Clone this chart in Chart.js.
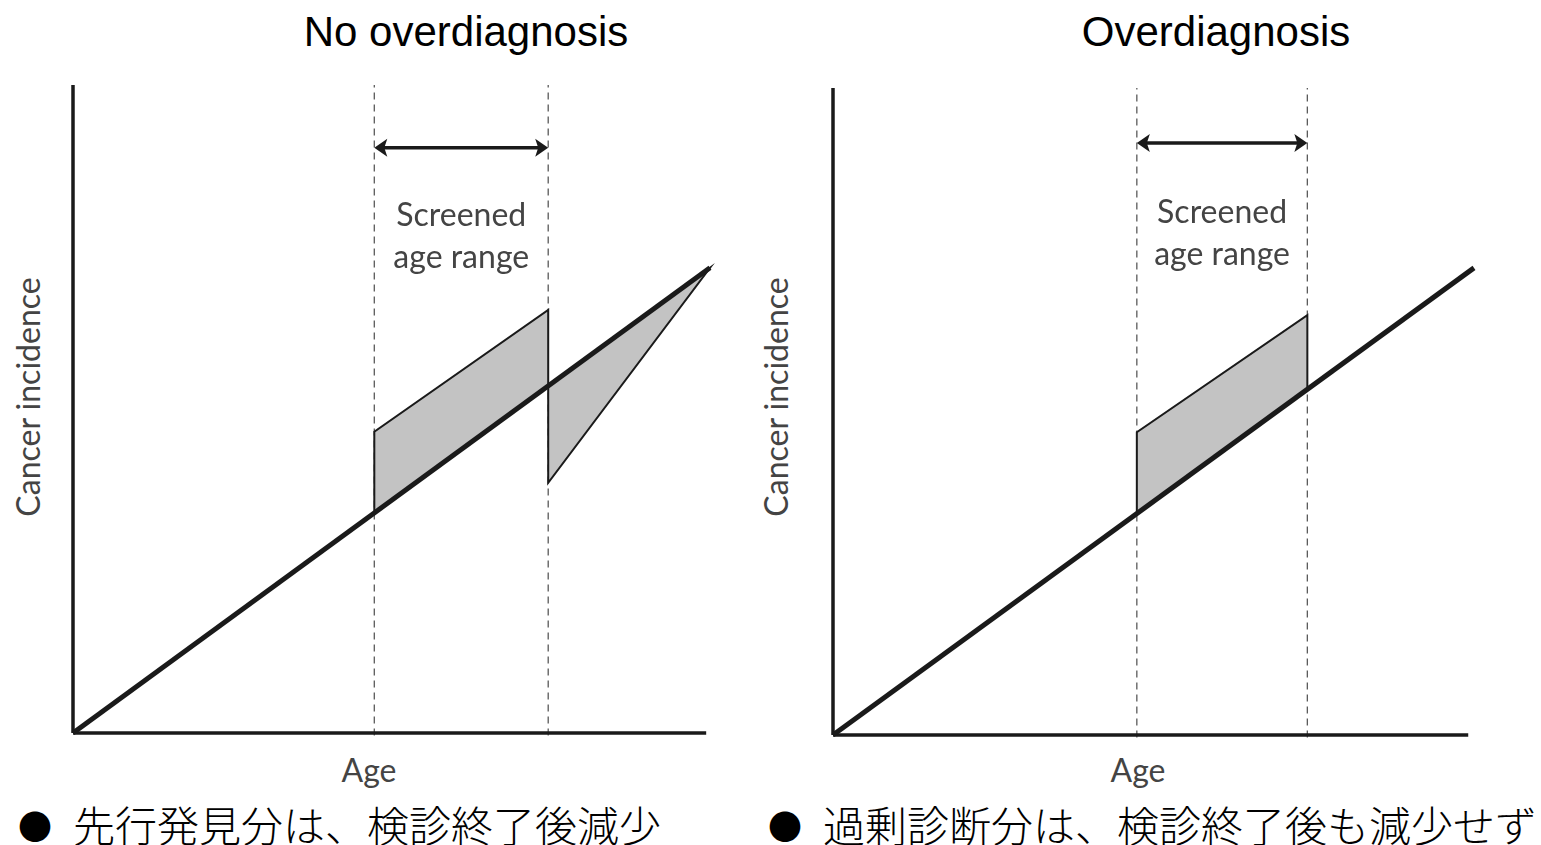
<!DOCTYPE html>
<html>
<head>
<meta charset="utf-8">
<title>Lead time vs overdiagnosis</title>
<script src="https://cdn.jsdelivr.net/npm/chart.js@4.4.1/dist/chart.umd.min.js"></script>
<style>
  body { margin: 0; width: 1541px; height: 845px; overflow: hidden; background: #fff; position: relative; }
  .panel { position: absolute; top: 0; height: 845px; }
  #p1 { left: 0; width: 770px; }
  #p2 { left: 770px; width: 771px; }
  .title { position: absolute; font-family: "Liberation Sans", Arial, sans-serif; font-size: 42px;
           line-height: 42px; color: #000; white-space: nowrap; transform: translateX(-50%); }
  .lab { position: absolute; font-family: Lato, "Open Sans", sans-serif; font-size: 32px; line-height: 32px;
         color: #444; white-space: nowrap; transform: translate(-50%, -50%); }
  .lab.rot { transform: translate(-50%, -50%) rotate(-90deg); }
  .note { position: absolute; top: 803px; font-family: "Noto Sans CJK JP", sans-serif; font-size: 42px;
          font-weight: 300; line-height: 42px; color: #000; white-space: nowrap; }
  .note .dot { position: absolute; font-size: 34px; font-weight: 400; }
</style>
</head>
<body>

<div class="title" style="left:466px; top:11px;">No overdiagnosis</div>
<div class="title" style="left:1216px; top:11px;">Overdiagnosis</div>

<div class="lab rot" style="left:28px; top:397px;">Cancer incidence</div>
<div class="lab rot" style="left:776px; top:397px;">Cancer incidence</div>
<div class="lab" style="left:369px; top:770px;">Age</div>
<div class="lab" style="left:1138px; top:770px;">Age</div>

<div class="note" style="left:73px;"><span class="dot" style="left:-55px; top:2px;">●</span>先行発見分は、検診終了後減少</div>
<div class="note" style="left:823px;"><span class="dot" style="left:-55px; top:2px;">●</span>過剰診断分は、検診終了後も減少せず</div>

<div class="panel" id="p1"><canvas id="leadChart"></canvas></div>
<div class="panel" id="p2"><canvas id="overChart"></canvas></div>

<script>
/* ---- axis extents (age / incidence, arbitrary units 0-100) ---- */
var AXIS_AGE_LEFT  = [0, 99.4];
var AXIS_AGE_RIGHT = [0, 99.1];
var AXIS_INC       = [0, 100];

/* ---- background incidence line ---- */
var baseAge       = [0, 100];
var baseIncLeft   = [0, 71.8];
var baseIncRight  = [0, 72.2];

/* ---- screened age range (start, end) ---- */
var screenLeft  = [47.3, 74.6];
var screenRight = [47.4, 74.0];

/* ---- no overdiagnosis: lead-time excess, then deficit after screening stops ---- */
var leadAge = [47.3, 47.3, 74.6, 74.6, 100, 47.3];
var leadInc = [33.9, 46.5, 65.3, 38.6, 71.8, 33.9];

/* ---- overdiagnosis: excess that never comes back ---- */
var overAge = [47.4, 47.4, 74.0, 74.0, 47.4];
var overInc = [34.2, 46.8, 64.9, 53.4, 34.2];

var INK  = '#1a1a1a';
var GREY = '#c3c3c3';
var DASH = '#5a5a5a';

function pts(xs, ys) {
  return xs.map(function (x, i) { return { x: x, y: ys[i] }; });
}

/* arrow over the screened range + its label */
var rangeNote = {
  id: 'rangeNote',
  afterDatasetsDraw: function (chart, args, opts) {
    var xs = chart.scales.x, ys = chart.scales.y, ctx = chart.ctx;
    var x0 = xs.getPixelForValue(opts.range[0]);
    var x1 = xs.getPixelForValue(opts.range[1]);
    var ya = ys.getPixelForValue(opts.arrowAt);
    var head = 13, half = 9, notch = 3;
    ctx.save();
    ctx.strokeStyle = INK; ctx.fillStyle = INK; ctx.lineWidth = 3.5;
    ctx.beginPath(); ctx.moveTo(x0 + head - 4, ya); ctx.lineTo(x1 - head + 4, ya); ctx.stroke();
    [[x0, 1], [x1, -1]].forEach(function (e) {
      var x = e[0], d = e[1];
      ctx.beginPath();
      ctx.moveTo(x, ya);
      ctx.lineTo(x + d * head, ya - half);
      ctx.lineTo(x + d * (head - notch), ya);
      ctx.lineTo(x + d * head, ya + half);
      ctx.closePath();
      ctx.fill();
    });

    ctx.font = '32px Lato, "Open Sans", sans-serif';
    ctx.fillStyle = '#444';
    ctx.textAlign = 'center';
    ctx.textBaseline = 'middle';
    var xm = (x0 + x1) / 2;
    ctx.fillText('Screened', xm, ys.getPixelForValue(opts.textAt[0]));
    ctx.fillText('age range', xm, ys.getPixelForValue(opts.textAt[1]));
    ctx.restore();
  }
};

function makePanel(id, p) {
  var ctx = document.getElementById(id);
  if (!ctx) return;

  var lineDs = function (data, width, color, extra) {
    var ds = { data: data, showLine: true, borderColor: color, borderWidth: width,
               pointRadius: 0, fill: false, clip: false, tension: 0 };
    for (var k in extra) ds[k] = extra[k];
    return ds;
  };

  new Chart(ctx, {
    type: 'scatter',
    data: {
      datasets: [
        lineDs(pts(baseAge, p.baseInc), 5, INK, { borderCapStyle: 'butt' }),
        lineDs(pts(p.shapeAge, p.shapeInc), 2, INK, { fill: 'shape', backgroundColor: GREY, borderJoinStyle: 'miter' }),
        lineDs(pts(p.axisAge, [0, 0]), 3.5, INK, {}),
        lineDs(pts([0, 0], AXIS_INC), 3.5, INK, {}),
        lineDs(pts([p.screen[0], p.screen[0]], [-0.4, 100]), 1.3, DASH, { borderDash: [7, 5] }),
        lineDs(pts([p.screen[1], p.screen[1]], [-0.4, 100]), 1.3, DASH, { borderDash: [7, 5] }),
      ],
    },
    options: {
      responsive: true,
      maintainAspectRatio: false,
      animation: false,
      layout: { padding: p.pad },
      scales: {
        x: { type: 'linear', display: false, min: 0, max: 100 },
        y: { type: 'linear', display: false, min: 0, max: 100 },
      },
      plugins: {
        legend: { display: false },
        tooltip: { enabled: false },
        rangeNote: { range: p.screen, arrowAt: p.arrowAt, textAt: p.textAt },
      },
    },
    plugins: [rangeNote],
  });
}

makePanel('leadChart', {
  baseInc: baseIncLeft, shapeAge: leadAge, shapeInc: leadInc, axisAge: AXIS_AGE_LEFT,
  screen: screenLeft, arrowAt: 90.3, textAt: [79.8, 73.3],
  pad: { left: 73, right: 60, top: 85, bottom: 112 },
});

makePanel('overChart', {
  baseInc: baseIncRight, shapeAge: overAge, shapeInc: overInc, axisAge: AXIS_AGE_RIGHT,
  screen: screenRight, arrowAt: 91.5, textAt: [80.7, 74.3],
  pad: { left: 63, right: 67, top: 88, bottom: 110 },
});
</script>
</body>
</html>
